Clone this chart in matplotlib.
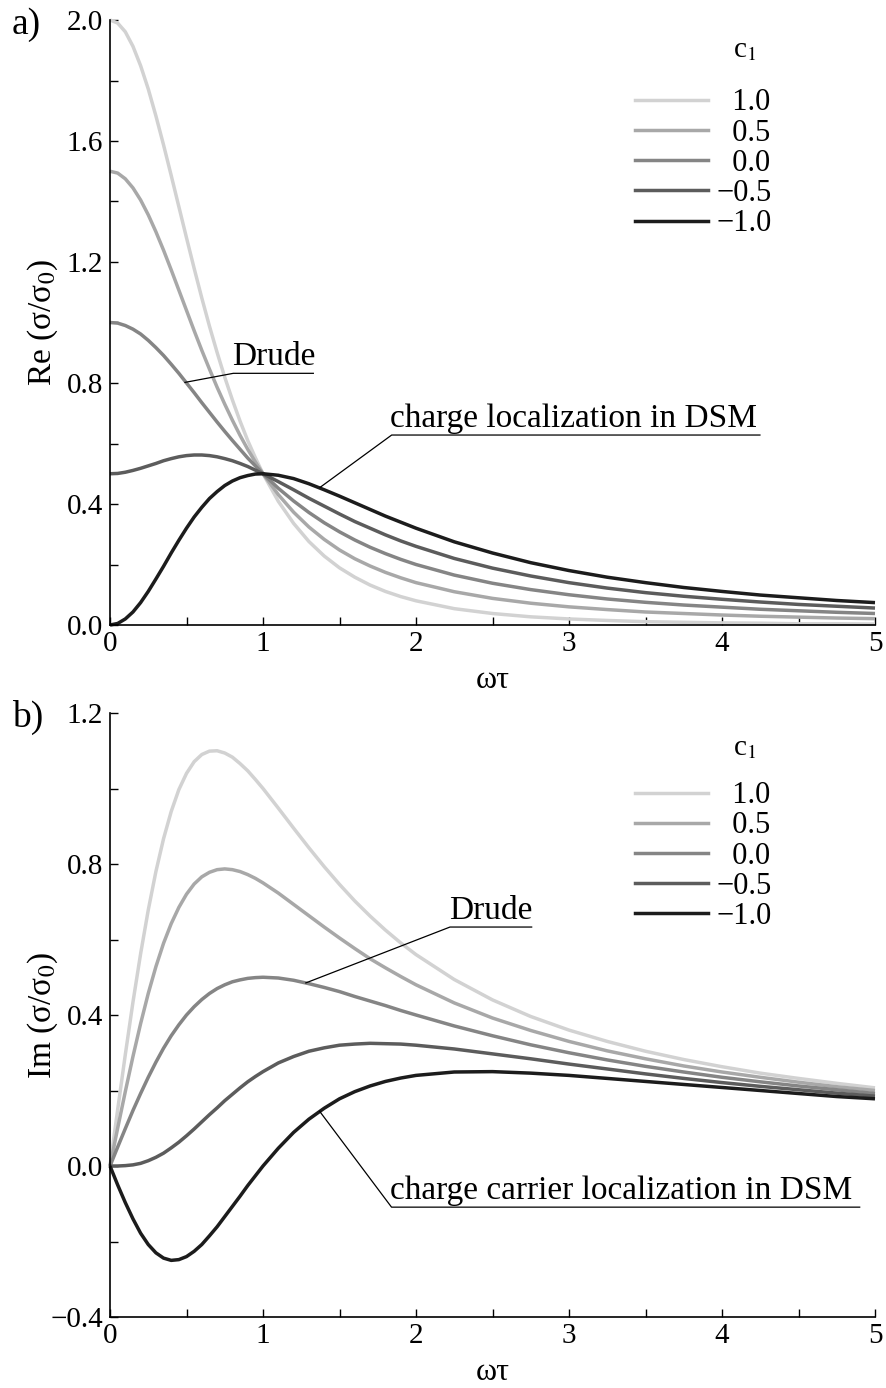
import matplotlib
matplotlib.use("Agg")
import matplotlib.pyplot as plt
from matplotlib.ticker import MultipleLocator, FuncFormatter
from matplotlib.lines import Line2D

plt.rcParams['font.family'] = ['Liberation Serif', 'DejaVu Serif']
plt.rcParams['mathtext.fontset'] = 'stix'

# omega*tau sample points
wt = [0.0, 0.05, 0.1, 0.15, 0.2, 0.25, 0.3, 0.35, 0.4, 0.45, 0.5,
      0.55, 0.6, 0.65, 0.7, 0.75, 0.8, 0.85, 0.9, 0.95, 1.0,
      1.1, 1.2, 1.3, 1.4, 1.5, 1.6, 1.7, 1.8, 1.9, 2.0,
      2.25, 2.5, 2.75, 3.0, 3.25, 3.5, 3.75, 4.0, 4.25, 4.5, 4.75, 5.0]

c1_values = [1.0, 0.5, 0.0, -0.5, -1.0]
line_colors = ['#d2d2d2', '#a8a8a8', '#858585', '#5c5c5c', '#1c1c1c']

# panel a) Re(sigma/sigma0)
re_p10 = [2.000, 1.990, 1.961, 1.913, 1.849, 1.772, 1.683, 1.587, 1.486, 1.383, 1.280,
          1.179, 1.081, 0.988, 0.901, 0.819, 0.744, 0.674, 0.610, 0.553, 0.500,
          0.409, 0.336, 0.276, 0.228, 0.189, 0.158, 0.132, 0.111, 0.094, 0.080,
          0.054, 0.038, 0.027, 0.020, 0.015, 0.011, 0.009, 0.007, 0.006, 0.004, 0.004, 0.003]
re_p05 = [1.500, 1.494, 1.475, 1.445, 1.405, 1.356, 1.300, 1.239, 1.174, 1.107, 1.040,
          0.973, 0.908, 0.846, 0.786, 0.730, 0.677, 0.627, 0.581, 0.539, 0.500,
          0.431, 0.373, 0.324, 0.283, 0.248, 0.219, 0.195, 0.174, 0.156, 0.140,
          0.110, 0.088, 0.072, 0.060, 0.051, 0.043, 0.038, 0.033, 0.029, 0.026, 0.023, 0.021]
re_00 = [1.000, 0.998, 0.990, 0.978, 0.962, 0.941, 0.917, 0.891, 0.862, 0.832, 0.800,
         0.768, 0.735, 0.703, 0.671, 0.640, 0.610, 0.581, 0.552, 0.526, 0.500,
         0.452, 0.410, 0.372, 0.338, 0.308, 0.281, 0.257, 0.236, 0.217, 0.200,
         0.165, 0.138, 0.117, 0.100, 0.086, 0.075, 0.066, 0.059, 0.052, 0.047, 0.042, 0.038]
re_m05 = [0.500, 0.501, 0.505, 0.511, 0.518, 0.526, 0.534, 0.543, 0.550, 0.556, 0.560,
          0.562, 0.562, 0.560, 0.556, 0.550, 0.543, 0.534, 0.524, 0.512, 0.500,
          0.474, 0.447, 0.419, 0.393, 0.367, 0.342, 0.320, 0.298, 0.278, 0.260,
          0.220, 0.188, 0.162, 0.140, 0.122, 0.107, 0.095, 0.085, 0.076, 0.068, 0.062, 0.056]
re_m10 = [0.000, 0.005, 0.020, 0.043, 0.074, 0.111, 0.152, 0.194, 0.238, 0.280, 0.320,
          0.357, 0.389, 0.418, 0.441, 0.461, 0.476, 0.487, 0.494, 0.499, 0.500,
          0.495, 0.484, 0.467, 0.447, 0.426, 0.404, 0.382, 0.360, 0.340, 0.320,
          0.275, 0.238, 0.206, 0.180, 0.158, 0.140, 0.124, 0.111, 0.099, 0.090, 0.081, 0.074]

# panel b) Im(sigma/sigma0)
im_p10 = [0.000, 0.149, 0.295, 0.434, 0.562, 0.678, 0.780, 0.867, 0.939, 0.997, 1.040,
          1.071, 1.090, 1.099, 1.100, 1.094, 1.083, 1.066, 1.047, 1.024, 1.000,
          0.948, 0.895, 0.843, 0.793, 0.746, 0.702, 0.662, 0.625, 0.591, 0.560,
          0.494, 0.440, 0.396, 0.360, 0.330, 0.304, 0.282, 0.263, 0.246, 0.232, 0.219, 0.207]
im_p05 = [0.000, 0.100, 0.197, 0.290, 0.377, 0.457, 0.528, 0.590, 0.642, 0.685, 0.720,
          0.747, 0.766, 0.778, 0.785, 0.787, 0.785, 0.780, 0.772, 0.762, 0.750,
          0.723, 0.693, 0.663, 0.633, 0.604, 0.576, 0.549, 0.525, 0.502, 0.480,
          0.432, 0.392, 0.359, 0.330, 0.305, 0.284, 0.265, 0.249, 0.235, 0.222, 0.210, 0.200]
im_00 = [0.000, 0.050, 0.099, 0.147, 0.192, 0.235, 0.275, 0.312, 0.345, 0.374, 0.400,
         0.422, 0.441, 0.457, 0.470, 0.480, 0.488, 0.493, 0.497, 0.499, 0.500,
         0.498, 0.492, 0.483, 0.473, 0.462, 0.449, 0.437, 0.425, 0.412, 0.400,
         0.371, 0.345, 0.321, 0.300, 0.281, 0.264, 0.249, 0.235, 0.223, 0.212, 0.202, 0.192]
im_m05 = [0.000, 0.000, 0.001, 0.003, 0.007, 0.014, 0.023, 0.034, 0.048, 0.063, 0.080,
          0.098, 0.117, 0.136, 0.154, 0.173, 0.190, 0.207, 0.223, 0.237, 0.250,
          0.273, 0.290, 0.304, 0.313, 0.320, 0.323, 0.325, 0.324, 0.323, 0.320,
          0.310, 0.297, 0.284, 0.270, 0.257, 0.244, 0.232, 0.221, 0.211, 0.202, 0.193, 0.185]
im_m10 = [0.000, -0.050, -0.097, -0.140, -0.178, -0.208, -0.230, -0.244, -0.250, -0.248, -0.240,
          -0.226, -0.208, -0.185, -0.161, -0.134, -0.107, -0.080, -0.052, -0.026, 0.000,
          0.047, 0.089, 0.124, 0.153, 0.178, 0.197, 0.212, 0.224, 0.233, 0.240,
          0.249, 0.250, 0.246, 0.240, 0.232, 0.224, 0.216, 0.208, 0.200, 0.192, 0.184, 0.178]

re_series = [re_p10, re_p05, re_00, re_m05, re_m10]
im_series = [im_p10, im_p05, im_00, im_m05, im_m10]


def fmt_num(v, pos=None):
    s = f"{v:.1f}"
    if s == "-0.0":
        s = "0.0"
    return s.replace("-", "\u2212")


def style_axes(ax, ymin, ymax):
    ax.set_xlim(0, 5)
    ax.set_ylim(ymin, ymax)
    for side in ['top', 'right']:
        ax.spines[side].set_visible(False)
    for side in ['left', 'bottom']:
        ax.spines[side].set_linewidth(1.2)
    ax.xaxis.set_major_locator(MultipleLocator(1))
    ax.xaxis.set_minor_locator(MultipleLocator(0.5))
    ax.yaxis.set_major_locator(MultipleLocator(0.4))
    ax.yaxis.set_minor_locator(MultipleLocator(0.2))
    ax.xaxis.set_major_formatter(FuncFormatter(lambda v, p: f"{v:.0f}"))
    ax.yaxis.set_major_formatter(FuncFormatter(fmt_num))
    ax.tick_params(which='both', direction='in', length=6, width=1.0,
                   labelsize=21, colors='black')
    ax.tick_params(axis='y', which='both', pad=5)
    ax.tick_params(axis='x', which='both', pad=4)


def add_legend(ax, title_xy):
    handles = [Line2D([], [], color=c, lw=2.5) for c in line_colors]
    labels = []
    for v in c1_values:
        s = fmt_num(v)
        if v >= 0:
            s = "\u2002" + s
        labels.append(s)
    ax.legend(handles, labels, loc='upper left', bbox_to_anchor=(0.686, 0.887),
              frameon=False, fontsize=22, handlelength=2.39, handletextpad=0.3,
              labelspacing=0.04, borderpad=0, borderaxespad=0)
    ax.text(title_xy[0], title_xy[1], "c$_1$", transform=ax.transAxes,
            fontsize=21, ha='center', va='center')


def leader(ax, curve_pt, corner, x_end, text):
    ax.plot([curve_pt[0], corner[0], x_end], [curve_pt[1], corner[1], corner[1]],
            color='black', lw=0.9, clip_on=False)
    ax.annotate(text, xy=corner, xytext=(-1, 1), textcoords='offset points',
                ha='left', va='bottom', fontsize=24)


fig = plt.figure(figsize=(8.86, 13.88), dpi=100)
ax1 = fig.add_axes([110 / 886, (1388 - 625) / 1388, 765 / 886, 605 / 1388])
ax2 = fig.add_axes([110 / 886, (1388 - 1317) / 1388, 765 / 886, 604 / 1388])

for ys, col in zip(re_series, line_colors):
    ax1.plot(wt, ys, color=col, lw=2.5, clip_on=False, solid_capstyle='butt')
for ys, col in zip(im_series, line_colors):
    ax2.plot(wt, ys, color=col, lw=2.5, clip_on=False, solid_capstyle='butt')

style_axes(ax1, 0.0, 2.0)
style_axes(ax2, -0.4, 1.2)

ax1.set_xlabel("ωτ", fontsize=23)
ax2.set_xlabel("ωτ", fontsize=23)
ax1.set_ylabel("Re (σ/σ$_0$)", fontsize=24)
ax2.set_ylabel("Im (σ/σ$_0$)", fontsize=24)
ax1.xaxis.set_label_coords(0.5, -0.067)
ax2.xaxis.set_label_coords(0.5, -0.068)
ax1.yaxis.set_label_coords(-0.065, 0.5)
ax2.yaxis.set_label_coords(-0.065, 0.5)

add_legend(ax1, (0.830, 0.950))
add_legend(ax2, (0.830, 0.942))

leader(ax1, (0.49, 0.802), (0.806, 0.832), 1.329, "Drude")
leader(ax1, (1.373, 0.455), (1.841, 0.628), 4.248, "charge localization in DSM")
leader(ax2, (1.28, 0.485), (2.222, 0.633), 2.756, "Drude")
leader(ax2, (1.37, 0.145), (1.84, -0.109), 4.90, "charge carrier localization in DSM")

fig.text(12 / 886, 1 - 25 / 1388, "a)", fontsize=27, ha='left', va='center')
fig.text(12 / 886, 1 - 717 / 1388, "b)", fontsize=27, ha='left', va='center')

fig.savefig("out.png", dpi=100)
